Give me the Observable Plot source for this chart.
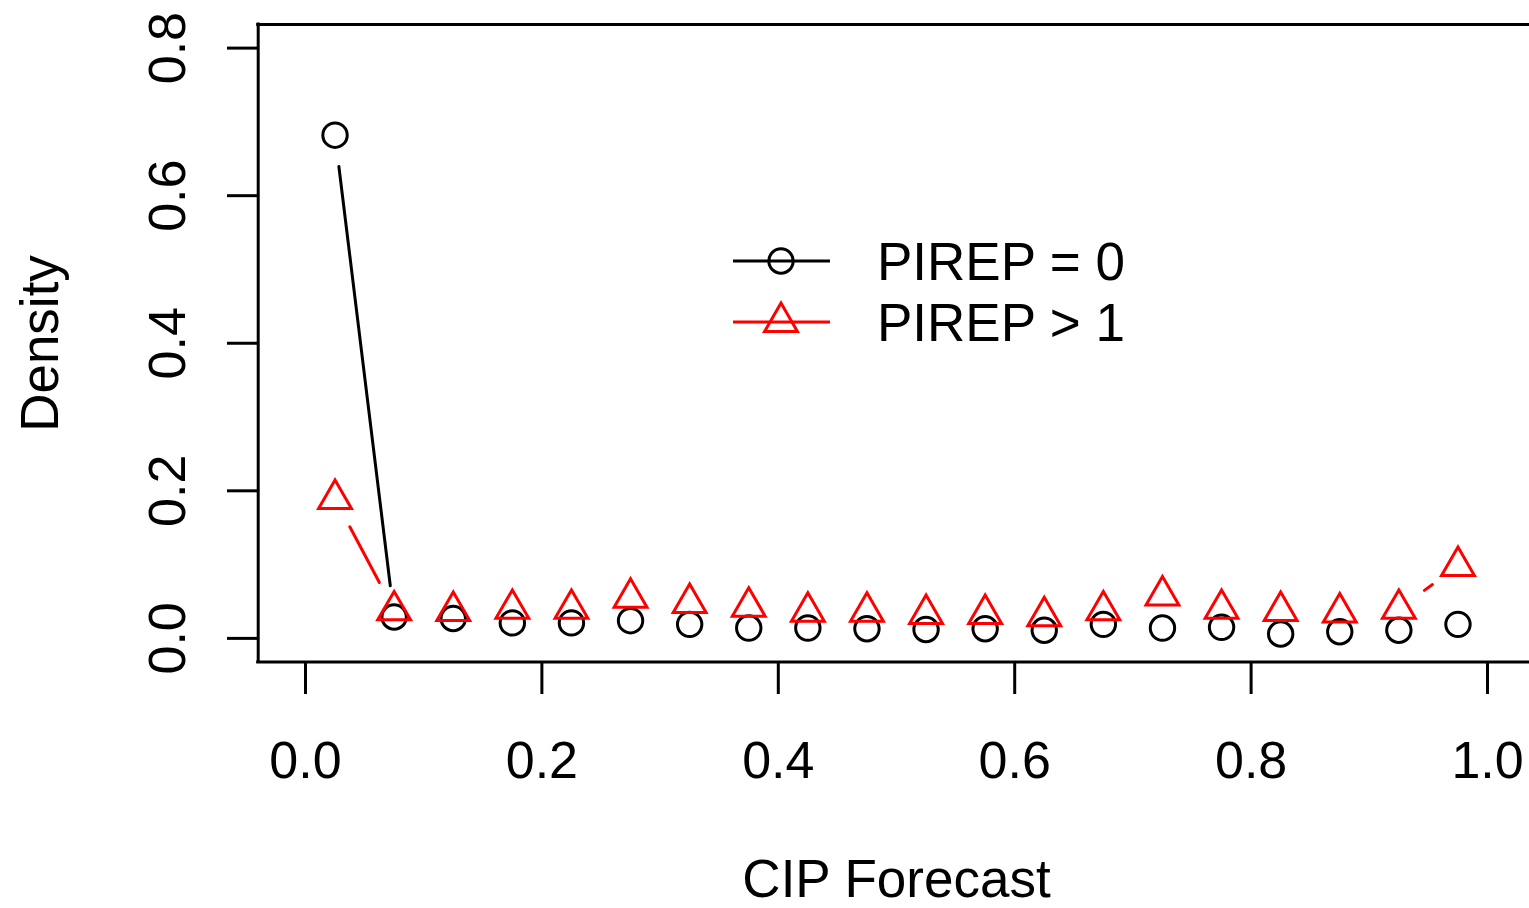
<!DOCTYPE html>
<html>
<head>
<meta charset="utf-8">
<script src="https://cdn.jsdelivr.net/npm/d3@7"></script>
<script src="https://cdn.jsdelivr.net/npm/@observablehq/plot@0.6"></script>
<style>
  html, body { margin: 0; padding: 0; background: #fff; }
  #chart svg { display: block; }
</style>
</head>
<body>
<div id="chart"></div>
<script>
// ---- data ----
const cipBins = [0.025, 0.075, 0.125, 0.175, 0.225, 0.275, 0.325, 0.375, 0.425, 0.475,
                 0.525, 0.575, 0.625, 0.675, 0.725, 0.775, 0.825, 0.875, 0.925, 0.975];
const densityPirep0 = [0.682, 0.029, 0.027, 0.021, 0.021, 0.024, 0.019, 0.014, 0.014, 0.013,
                       0.012, 0.013, 0.011, 0.019, 0.014, 0.015, 0.006, 0.009, 0.011, 0.019];
const densityPirepGt1 = [0.189, 0.038, 0.037, 0.040, 0.040, 0.055, 0.048, 0.043, 0.036, 0.036,
                         0.033, 0.033, 0.030, 0.038, 0.058, 0.040, 0.037, 0.035, 0.040, 0.098];
const xTicks = [0, 0.2, 0.4, 0.6, 0.8, 1.0];
const yTicks = [0, 0.2, 0.4, 0.6, 0.8];
const seriesNames = ["PIREP = 0", "PIREP > 1"];
const xTitle = "CIP Forecast";
const yTitle = "Density";

// ---- layout ----
const W = 1529, H = 908;
const FONT = "'Liberation Sans', Arial, Helvetica, sans-serif";
const TICK_FS = 52, TITLE_FS = 53;
const xDomain = [-0.04, 1.04], xRange = [257.7, 1534.3];
const yDomain = [-0.032, 0.832], yRange = [661.5, 24];
const xs = d3.scaleLinear(xDomain, xRange);
const ys = d3.scaleLinear(yDomain, yRange);

const s0 = cipBins.map((x, i) => ({x, y: densityPirep0[i]}));
const s1 = cipBins.map((x, i) => ({x, y: densityPirepGt1[i]}));

// R type="b": segments with gaps around points (gap in pixels)
function gappedSegments(pts, gap) {
  const out = [];
  for (let i = 0; i < pts.length - 1; i++) {
    const ax = xs(pts[i].x), ay = ys(pts[i].y);
    const bx = xs(pts[i+1].x), by = ys(pts[i+1].y);
    const L = Math.hypot(bx - ax, by - ay);
    if (L <= 2 * gap) continue;
    const ux = (bx - ax) / L, uy = (by - ay) / L;
    out.push({
      x1: xs.invert(ax + ux * gap), y1: ys.invert(ay + uy * gap),
      x2: xs.invert(bx - ux * gap), y2: ys.invert(by - uy * gap)
    });
  }
  return out;
}
const GAP = 31.5;
const seg0 = gappedSegments(s0, GAP);
const seg1 = gappedSegments(s1, GAP);

const R = 12.2, SW = 3;

const plot = Plot.plot({
  width: W, height: H,
  x: {domain: xDomain, range: xRange, axis: null},
  y: {domain: yDomain, range: yRange, axis: null},
  style: {fontFamily: FONT, background: "white", color: "black"},
  marks: [
    // box (top, left, bottom)
    Plot.ruleY([yDomain[1], yDomain[0]], {y: d => d, x1: xDomain[0], x2: xDomain[1], stroke: "black", strokeWidth: SW, strokeLinecap: "square"}),
    Plot.ruleX([xDomain[0]], {x: d => d, y1: yDomain[0], y2: yDomain[1], stroke: "black", strokeWidth: SW, strokeLinecap: "square"}),
    // x ticks & labels
    Plot.ruleX(xTicks, {x: d => d, y1: yDomain[0], y2: ys.invert(694), stroke: "black", strokeWidth: SW}),
    Plot.text(xTicks, {x: d => d, y: ys.invert(777), text: d => d.toFixed(1), fontSize: TICK_FS, lineAnchor: "bottom", textAnchor: "middle", fill: "black"}),
    // y ticks & labels
    Plot.ruleY(yTicks, {y: d => d, x1: xs.invert(227), x2: xDomain[0], stroke: "black", strokeWidth: SW}),
    Plot.text(yTicks, {x: xs.invert(184), y: d => d, text: d => d.toFixed(1), fontSize: TICK_FS, rotate: -90, lineAnchor: "bottom", textAnchor: "middle", fill: "black"}),
    // axis titles
    Plot.text([xTitle], {x: xs.invert(896), y: ys.invert(896), text: d => d, fontSize: TITLE_FS, lineAnchor: "bottom", textAnchor: "middle", fill: "black"}),
    Plot.text([yTitle], {x: xs.invert(57), y: ys.invert(343), text: d => d, fontSize: TITLE_FS, rotate: -90, lineAnchor: "bottom", textAnchor: "middle", fill: "black"}),
    // series PIREP = 0
    Plot.link(seg0, {x1: "x1", y1: "y1", x2: "x2", y2: "y2", stroke: "black", strokeWidth: SW, strokeLinecap: "round"}),
    Plot.dot(s0, {x: "x", y: "y", r: R, symbol: "circle", stroke: "black", fill: "none", strokeWidth: SW}),
    // series PIREP > 1
    Plot.link(seg1, {x1: "x1", y1: "y1", x2: "x2", y2: "y2", stroke: "red", strokeWidth: SW, strokeLinecap: "round"}),
    Plot.dot(s1, {x: "x", y: "y", r: R, symbol: "triangle", stroke: "red", fill: "none", strokeWidth: SW})
  ]
});
document.getElementById("chart").appendChild(plot);

// ---- legend (inside the plot, no box) ----
const svg = d3.select(plot);
const lg = svg.append("g").attr("font-family", FONT).attr("font-size", TITLE_FS).attr("text-anchor", "start");
const legendItems = [
  {name: seriesNames[0], color: "black", sym: d3.symbolCircle, y: 261},
  {name: seriesNames[1], color: "red", sym: d3.symbolTriangle, y: 322}
];
legendItems.forEach(it => {
  lg.append("line").attr("x1", 733).attr("x2", 830).attr("y1", it.y).attr("y2", it.y)
    .attr("stroke", it.color).attr("stroke-width", SW);
  lg.append("path").attr("d", d3.symbol(it.sym, Math.PI * R * R)())
    .attr("transform", `translate(781,${it.y})`)
    .attr("fill", "none").attr("stroke", it.color).attr("stroke-width", SW);
  lg.append("text").attr("x", 877).attr("y", it.y + 19).attr("fill", "black")
    .attr("text-anchor", "start").text(it.name);
});
</script>
</body>
</html>
